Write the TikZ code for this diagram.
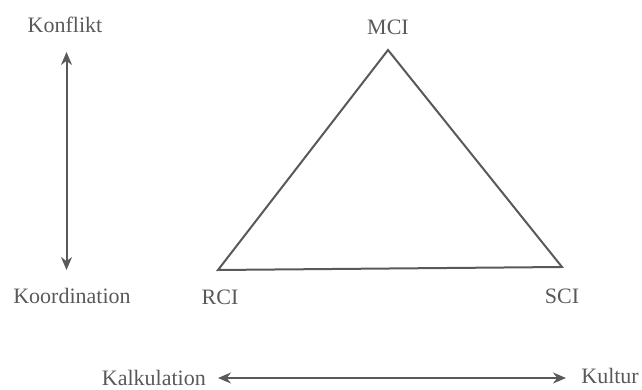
\documentclass[tikz,border=0pt]{standalone}
\usepackage{fontspec}
\setmainfont{Liberation Serif}
\usetikzlibrary{arrows.meta}
\definecolor{ink}{gray}{0.35}
\begin{document}
\begin{tikzpicture}[x=1pt,y=1pt,
  lbl/.style={text=ink,font=\fontsize{22}{24}\selectfont,inner sep=0pt},
  ln/.style={draw=ink,line width=2pt},
  dbl/.style={ln,{Stealth[length=13pt,width=11pt]}-{Stealth[length=13pt,width=11pt]}}]
\useasboundingbox (0,0) rectangle (642,390);
\node[lbl] (konf) at (65,365) {Konflikt};
\node[lbl] (koord) at (72,94) {Koordination};
\node[lbl] (mci) at (388,363) {MCI};
\node[lbl] (rci) at (220,93) {RCI};
\node[lbl] (sci) at (562,94) {SCI};
\node[lbl,anchor=east] (kalk) at (206,12) {Kalkulation};
\node[lbl,anchor=east] (kult) at (639,14) {Kultur};
\coordinate (vt) at (66.5,338);
\coordinate (vb) at (66.5,120);
\coordinate (hl) at (218,12);
\coordinate (hr) at (566,12);
\coordinate (A) at (218,120);
\coordinate (B) at (562,123);
\coordinate (C) at (388,340);
\draw[dbl] (vb) -- (vt);
\draw[dbl] (hl) -- (hr);
\draw[ln,line join=miter] (A) -- (B) -- (C) -- cycle;
\end{tikzpicture}
\end{document}
